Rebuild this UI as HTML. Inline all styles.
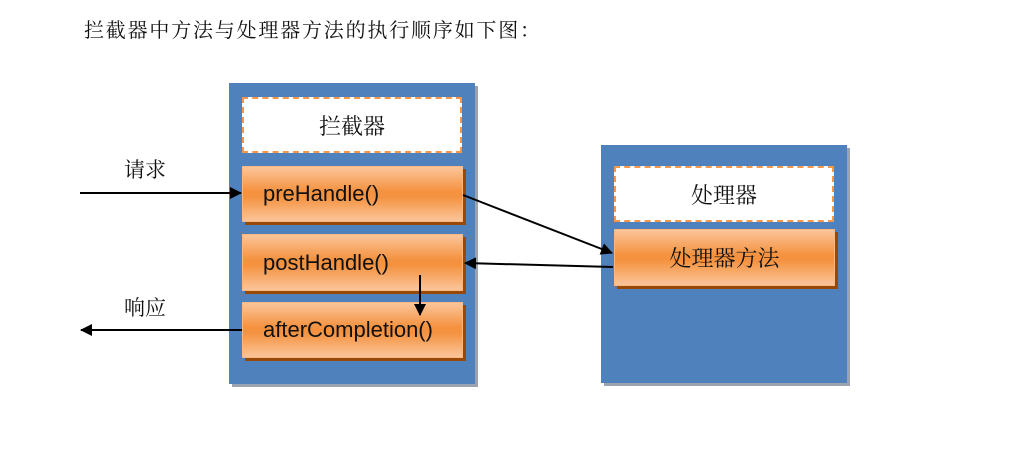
<!DOCTYPE html>
<html><head><meta charset="utf-8"><style>
body{margin:0;width:1024px;height:459px;background:#fff;position:relative;overflow:hidden;font-family:"Liberation Sans","Noto Sans CJK SC",sans-serif}
.a{position:absolute}
.s{font-family:"Noto Serif CJK SC",serif}
.panel{background:#4f81bd;box-shadow:3px 3px 0 #9aa3ae}
.dash{background:#fff;border:2px dashed #f79646;box-sizing:border-box;display:flex;align-items:center;justify-content:center;font-size:22px;color:#111}
.ob{background:linear-gradient(#fbc59a,#f4923f 45%,#f4923f 55%,#fbc59a);border:1.5px solid #fbb77f;box-sizing:border-box;box-shadow:3px 3px 0 #984807;display:flex;align-items:center;font-size:22px;color:#111}
</style></head><body>
<div class="a s" style="left:84px;top:14px;font-size:20px;letter-spacing:1.8px;color:#111;white-space:nowrap">拦截器中方法与处理器方法的执行顺序如下图：</div>
<div class="a panel" style="left:229px;top:83px;width:246px;height:301px"></div>
<div class="a dash s" style="left:242px;top:97px;width:220px;height:56px">拦截器</div>
<div class="a ob" style="left:242px;top:166px;width:221px;height:56px;padding-left:20px">preHandle()</div>
<div class="a ob" style="left:242px;top:234px;width:221px;height:57px;padding-left:20px">postHandle()</div>
<div class="a ob" style="left:242px;top:302px;width:221px;height:56px;padding-left:20px">afterCompletion()</div>
<div class="a panel" style="left:601px;top:145px;width:246px;height:238px"></div>
<div class="a dash s" style="left:614px;top:166px;width:220px;height:56px">处理器</div>
<div class="a ob s" style="left:614px;top:229px;width:221px;height:57px;justify-content:center;font-size:22px">处理器方法</div>
<div class="a s" style="left:124px;top:154px;font-size:21px;color:#111">请求</div>
<div class="a s" style="left:124px;top:292px;font-size:21px;color:#111">响应</div>
<svg class="a" style="left:0;top:0" width="1024" height="459">
<defs><marker id="m" markerWidth="12" markerHeight="12" refX="11" refY="6" orient="auto" markerUnits="userSpaceOnUse"><path d="M0,0L12,6L0,12z" fill="#000"/></marker></defs>
<g stroke="#000" stroke-width="2" fill="none" marker-end="url(#m)">
<line x1="80" y1="193" x2="241" y2="193"/>
<line x1="242" y1="330" x2="81" y2="330"/>
<line x1="463" y1="195" x2="612" y2="253"/>
<line x1="613" y1="267" x2="465" y2="263"/>
<line x1="420" y1="275" x2="420" y2="315"/>
</g></svg>
</body></html>
